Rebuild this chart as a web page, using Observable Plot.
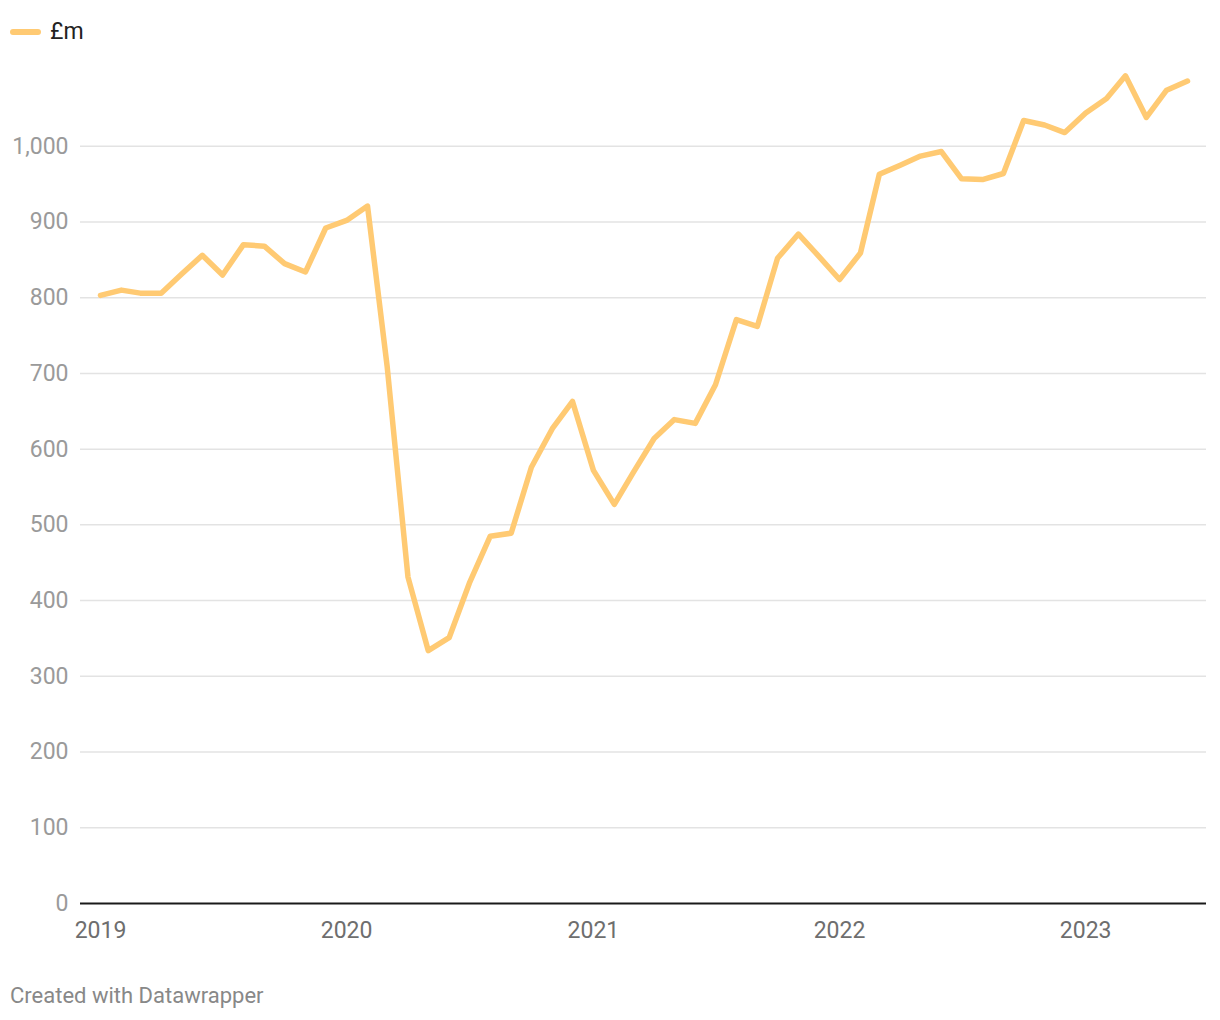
<!DOCTYPE html>
<html>
<head>
<meta charset="utf-8">
<script src="https://cdn.jsdelivr.net/npm/d3@7"></script>
<script src="https://cdn.jsdelivr.net/npm/@observablehq/plot@0.6"></script>
<style>
  html, body { margin: 0; padding: 0; background: #fff; font-family: Roboto, sans-serif; }
  #wrap { position: relative; width: 1220px; height: 1020px; }
  #legend { position: absolute; left: 10px; top: 18px; display: flex; align-items: center; font-size: 23px; color: #222; }
  #legend .sw { width: 31px; height: 6px; border-radius: 3px; background: #ffca73; margin-right: 9px; }
  #chart { position: absolute; left: 0; top: 0; }
  #footer { position: absolute; left: 10px; top: 983px; font-size: 22px; color: #888; }
</style>
</head>
<body>
<div id="wrap">
  <div id="chart"></div>
  <div id="legend"><div class="sw"></div><span>£m</span></div>
  <div id="footer">Created with Datawrapper</div>
</div>
<script>
const seriesName = "£m";
const startYear = 2019;
const values = [
  803, 810, 806, 806, 831, 856, 830, 870, 868, 845, 834, 892,
  902, 921, 710, 431, 334, 351, 423, 485, 489, 576, 627, 663,
  572, 527, 569, 614, 639, 634, 685, 771, 762, 852, 884, 855,
  824, 859, 963, 975, 987, 993, 957, 956, 964, 1034, 1028, 1018,
  1044, 1063, 1093, 1038, 1074, 1086
];
const yTicks = [0, 100, 200, 300, 400, 500, 600, 700, 800, 900, 1000];
const xTickYears = [2019, 2020, 2021, 2022, 2023];

const data = values.map((v, i) => ({date: new Date(Date.UTC(startYear, i, 1)), value: v}));
const xTicks = xTickYears.map(y => new Date(Date.UTC(y, 0, 1)));

const chart = Plot.plot({
  width: 1220,
  height: 960,
  marginLeft: 80,
  marginRight: 14,
  marginTop: 70,
  marginBottom: 57,
  style: {fontFamily: "Roboto, sans-serif", fontSize: "23px", background: "transparent"},
  x: {type: "utc", domain: [data[0].date, data[data.length - 1].date], insetLeft: 20, insetRight: 19},
  y: {domain: [0, 1100]},
  marks: [
    Plot.ruleY(yTicks.filter(d => d > 0), {stroke: "#e3e3e3", strokeWidth: 1.5}),
    Plot.axisY(yTicks, {tickSize: 0, tickPadding: 12, tickFormat: d3.format(","), fill: "#9a9a9a", label: null, fontSize: 23}),
    Plot.axisX(xTicks, {tickSize: 0, tickPadding: 18, tickFormat: d => String(d.getUTCFullYear()), fill: "#6e6e6e", label: null, fontSize: 23}),
    Plot.ruleY([0], {stroke: "#1a1a1a", strokeWidth: 2}),
    Plot.line(data, {x: "date", y: "value", stroke: "#ffca73", strokeWidth: 5.5, strokeLinejoin: "round", strokeLinecap: "round"})
  ]
});
document.getElementById("chart").appendChild(chart);
</script>
</body>
</html>
